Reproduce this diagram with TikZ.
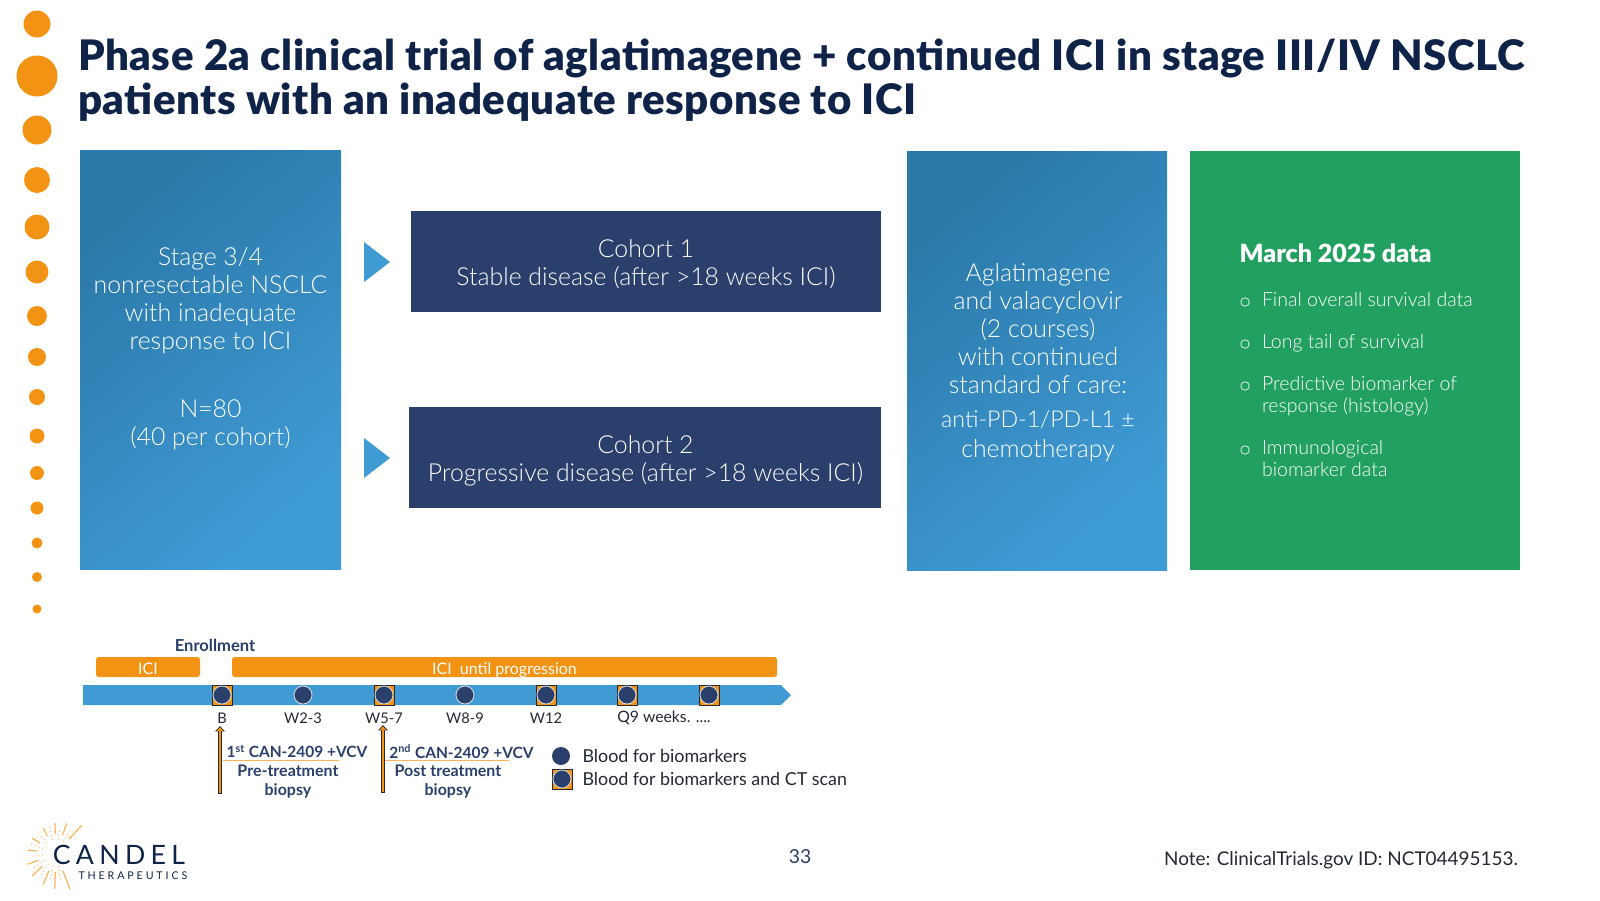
\documentclass[tikz,border=0pt]{standalone}
\usepackage{fontspec}
\setmainfont{Lato}[UprightFont=Lato Light,BoldFont=Lato Black]
\newfontfamily\regfont{Lato}
\usetikzlibrary{arrows.meta}

\definecolor{candelNavy}{RGB}{15,34,72}
\definecolor{boxNavy}{RGB}{42,63,107}
\definecolor{boxGreen}{RGB}{33,160,95}
\definecolor{candelOrange}{RGB}{243,147,19}
\definecolor{barBlue}{RGB}{64,155,212}
\definecolor{gradDark}{RGB}{42,120,168}
\definecolor{gradLight}{RGB}{64,156,214}
\definecolor{inkGrey}{RGB}{35,40,50}

\tikzset{every picture/.style={line width=0.75pt}}
\newcommand{\bodyfont}{\fontsize{18.6}{21}\selectfont}
\tikzset{
	titletext/.style={anchor=base west,text=candelNavy,inner sep=0pt,font=\bfseries\fontsize{31.5}{33}\selectfont\addfontfeatures{LetterSpace=1.2}},
	gradbox/.style={rectangle,inner sep=0pt,top color=gradDark,bottom color=gradLight,shading angle=40},
	cohortbox/.style={rectangle,inner sep=0pt,fill=boxNavy},
	bodytext/.style={text=white,align=center,font=\bodyfont},
	listtext/.style={text=white,anchor=base west,font=\fontsize{14.65}{16}\selectfont},
	listmark/.style={circle,draw=white,line width=0.5pt,inner sep=0pt,minimum size=8.5*0.75pt},
	pointer/.style={fill=barBlue,draw=none},
	icibar/.style={rectangle,rounded corners=2pt,inner sep=0pt,fill=candelOrange,text=white,text height=12.5pt,text depth=2pt,font=\regfont\fontsize{12}{13}\selectfont},
	weektext/.style={text=inkGrey,font=\regfont\fontsize{11}{12}\selectfont},
	doselabel/.style={text=boxNavy,font=\regfont\bfseries\fontsize{12}{13}\selectfont},
	doseline/.style={text=boxNavy,font=\regfont\bfseries\fontsize{11.6}{13}\selectfont},
	legendtext/.style={text=inkGrey,anchor=west,font=\regfont\fontsize{13.4}{14}\selectfont},
	ctsquare/.style={rectangle,draw=inkGrey,fill=candelOrange,inner sep=0pt,minimum size=20*0.75pt,line width=0.6pt},
	bloodspot/.style={circle,draw=white!75!gray,fill=boxNavy,inner sep=0pt,minimum size=18*0.75pt,line width=0.6pt},
}

\begin{document}
\begin{tikzpicture}[x=0.75pt,y=0.75pt,yscale=-1,xscale=1]
	\useasboundingbox (0,0) rectangle (1600,900);

	% Orange dots down the left edge
	\foreach \dotY/\dotR in {24/13.5,76/20.5,130/14.5,180/13,227/12.5,272/11.5,316/10,357/9,397/8,436/7.5,473/7,508/6.5,543/5.5,577/5,609/4.5}
		\fill [candelOrange] (37,\dotY) circle [radius=\dotR];

	% Title
	\node [titletext] (titleA) at (77.5,70.5) {Phase 2a clinical trial of aglatimagene + continued ICI in stage III/IV NSCLC};
	\node [titletext] (titleB) at (77.5,114.5) {patients with an inadequate response to ICI};

	% Upper boxes
	\node [gradbox,minimum width=261*0.75pt,minimum height=419.5*0.75pt] (stageBox) at (210.5,360) {};
	\node [cohortbox,minimum width=470*0.75pt,minimum height=101*0.75pt] (cohortA) at (645.5,261.5) {};
	\node [cohortbox,minimum width=472*0.75pt,minimum height=101*0.75pt] (cohortB) at (645,457.5) {};
	\node [gradbox,minimum width=260*0.75pt,minimum height=419*0.75pt] (drugBox) at (1037,360.5) {};
	\node [rectangle,inner sep=0pt,fill=boxGreen,minimum width=330*0.75pt,minimum height=419*0.75pt] (dataBox) at (1355,360.5) {};

	% Right pointing triangles
	\fill [pointer] (364,242) -- (390,262) -- (364,282) -- cycle;
	\fill [pointer] (364,438) -- (390,458) -- (364,478) -- cycle;

	% Text Node
	\node [bodytext] (stageText) at (210.5,300.5) {Stage 3/4\\nonresectable NSCLC\\with inadequate\\response to ICI};
	\node [bodytext] (countText) at (210.5,425) {N=80\\(40 per cohort)};
	\node [bodytext] (cohortTextA) at (646,264.5) {Cohort 1\\Stable disease (after {>}18 weeks ICI)};
	\node [bodytext] (cohortTextB) at (645.5,461) {Cohort 2\\Progressive disease (after {>}18 weeks ICI)};
	\node [bodytext] (drugText) at (1038,329) {Aglatimagene\\and valacyclovir\\(2 courses)\\with continued\\standard of care:};
	\node [bodytext,font=\fontsize{17.4}{21}\selectfont] (drugTextB) at (1038,419.5) {anti-PD-1/PD-L1 ±};
	\node [bodytext] (drugTextC) at (1038,450.5) {chemotherapy};

	% Green box list
	\node [anchor=base west,text=white,font=\bfseries\fontsize{18.8}{20}\selectfont,inner sep=0pt] (dataHead) at (1239,262.5) {March 2025 data};
	\foreach \itemY/\itemName/\itemText in {306/itemA/Final overall survival data,348/itemB/Long tail of survival,390/itemC/Predictive biomarker of,412/itemD/response (histology),454/itemE/Immunological,476/itemF/biomarker data}
		\node [listtext,inner sep=0pt] (\itemName) at (1261.5,\itemY) {\itemText};
	\foreach \markY/\markName in {302/markA,344/markB,386/markC,450/markD}
		\node [listmark] (\markName) at (1245,\markY) {};

	% Timeline bar
	\fill [barBlue] (83,685) -- (781,685) -- (791,695) -- (781,705) -- (83,705) -- cycle;
	\node [icibar,minimum width=104*0.75pt,minimum height=20*0.75pt] (iciA) at (148,667) {ICI};
	\node [icibar,minimum width=545*0.75pt,minimum height=20*0.75pt] (iciB) at (504.5,667) {ICI\ \ until progression};
	\node [text=boxNavy,font=\regfont\bfseries\fontsize{12.4}{14}\selectfont] (enrollText) at (215,645) {Enrollment};

	% Visits
	\foreach \sqX/\sqName in {222/sqB,384/sqC,546/sqD,627/sqE,709/sqF}
		\node [ctsquare] (\sqName) at (\sqX,695) {};
	\foreach \spotX/\spotName in {222/spotA,303/spotB,384/spotC,465/spotD,546/spotE,627/spotF,709/spotG}
		\node [bloodspot] (\spotName) at (\spotX,695) {};
	\foreach \weekX/\weekName/\weekText in {222/weekA/B,303/weekB/W2-3,384/weekC/W5-7,465/weekD/W8-9,546/weekE/W12}
		\node [weektext] (\weekName) at (\weekX,718) {\weekText};
	\node [weektext,font=\regfont\fontsize{11.8}{12}\selectfont] (weekF) at (664,718) {Q9 weeks. ....};

	% Dose arrows
	\coordinate (doseAs) at (220,794);
	\coordinate (doseAe) at (220,726);
	\coordinate (doseBs) at (383,793);
	\coordinate (doseBe) at (383,725);
	\foreach \doseS/\doseE in {doseAs/doseAe,doseBs/doseBe} {
		\draw [inkGrey,line width=2.9pt,-{Triangle[length=4pt,width=7pt]}] (\doseS) -- (\doseE);
		\draw [candelOrange,line width=1.8pt,shorten >=1pt,shorten <=0.4pt,-{Triangle[length=2.6pt,width=4.6pt]}] (\doseS) -- (\doseE);
	}

	% Dose text
	\node [doseline] (doseA) at (297,751.5) {1\textsuperscript{st} CAN-2409 +VCV};
	\node [doselabel] (preA) at (288,771) {Pre-treatment};
	\node [doselabel] (bioA) at (288,790.5) {biopsy};
	\node [doseline] (doseB) at (461.5,751.5) {2\textsuperscript{nd} CAN-2409 +VCV};
	\node [doselabel] (postB) at (448,771) {Post treatment};
	\node [doselabel] (bioB) at (448,790.5) {biopsy};
	\coordinate (ruleAs) at (223,760);
	\coordinate (ruleAe) at (339,760);
	\coordinate (ruleBs) at (385,760);
	\coordinate (ruleBe) at (509,760);
	\draw [candelOrange!70,line width=0.5pt] (ruleAs) -- (ruleAe);
	\draw [candelOrange!70,line width=0.5pt] (ruleBs) -- (ruleBe);

	% Legend
	\node [bloodspot,draw=none] (legSpot) at (561,756) {};
	\node [ctsquare] (legSquare) at (562,779) {};
	\node [bloodspot] (legSpotB) at (562,779) {};
	\node [legendtext,inner sep=0pt] (legA) at (582,756) {Blood for biomarkers};
	\node [legendtext,inner sep=0pt] (legB) at (582,779) {Blood for biomarkers and CT scan};

	% Logo rays
	\foreach \rayA/\rayR in {-47/38,-70/31.5,-92/30,-117/28,-148/28,-174/28,158/30,136/33,112/34,92/36,69/39}
		\draw [candelOrange!70,line width=0.9pt] (56,853) ++(\rayA:19) -- ++(\rayA:\rayR-19);
	% Logo dotted rays
	\foreach \rayA in {-58,-81,-104,-132,-161,172,147,124,102,80}
		\draw [candelOrange!70,line width=1pt,line cap=round,dash pattern=on 0pt off 3pt] (56,853) ++(\rayA:14) -- ++(\rayA:12);
	% Logo text
	\node [fill=white,inner sep=1pt,text=candelNavy,anchor=west,font=\regfont\fontsize{20}{22}\selectfont\addfontfeatures{LetterSpace=20}] (logoA) at (51,855) {CANDEL};
	\node [inner sep=0pt,text=candelNavy,anchor=west,font=\regfont\fontsize{8}{10}\selectfont\addfontfeatures{LetterSpace=27}] (logoB) at (78,876) {THERAPEUTICS};

	% Footer
	\node [text=boxNavy,font=\regfont\fontsize{14.5}{16}\selectfont] (pageNum) at (800,857) {33};
	\node [anchor=east,inner sep=0pt,text=inkGrey,font=\regfont\fontsize{14.2}{16}\selectfont] (noteText) at (1518.5,860.5) {Note: ClinicalTrials.gov ID: NCT04495153.};
\end{tikzpicture}
\end{document}
